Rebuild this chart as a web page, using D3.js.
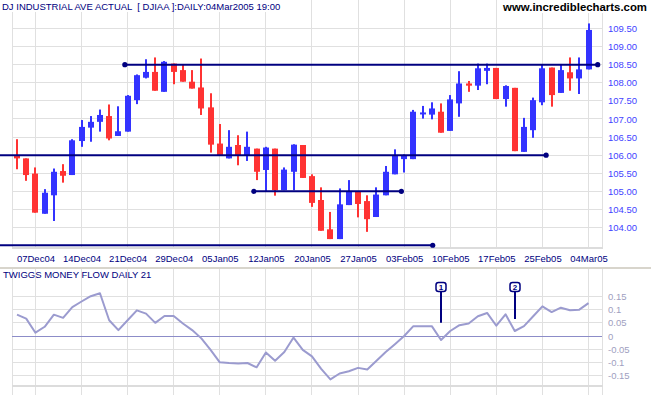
<!DOCTYPE html>
<html>
<head>
<meta charset="utf-8">
<script src="https://cdn.jsdelivr.net/npm/d3@7"></script>
<style>
  body { margin: 0; background: #fff; }
  svg { display: block; font-family: "Liberation Sans", Arial, sans-serif; }
</style>
</head>
<body>
<div id="chart"></div>
<script>
// trading days shown on the chart
const dates = [
  "03Dec04","06Dec04","07Dec04","08Dec04","09Dec04","10Dec04","13Dec04","14Dec04","15Dec04","16Dec04",
  "17Dec04","20Dec04","21Dec04","22Dec04","23Dec04","27Dec04","28Dec04","29Dec04","30Dec04","31Dec04",
  "03Jan05","04Jan05","05Jan05","06Jan05","07Jan05","10Jan05","11Jan05","12Jan05","13Jan05","14Jan05",
  "18Jan05","19Jan05","20Jan05","21Jan05","24Jan05","25Jan05","26Jan05","27Jan05","28Jan05","31Jan05",
  "01Feb05","02Feb05","03Feb05","04Feb05","07Feb05","08Feb05","09Feb05","10Feb05","11Feb05","14Feb05",
  "15Feb05","16Feb05","17Feb05","18Feb05","22Feb05","23Feb05","24Feb05","25Feb05","28Feb05","01Mar05",
  "02Mar05","03Mar05","04Mar05"
];

const open = [
  106.00,105.91,105.49,104.38,104.89,105.56,105.45,106.39,106.76,106.92,
  107.08,106.53,106.65,107.52,108.14,108.30,107.75,108.53,108.35,108.03,
  107.87,107.32,106.32,105.91,106.28,106.00,106.18,105.59,106.18,105.03,
  105.54,106.28,105.42,104.76,103.95,103.68,104.62,104.99,104.73,104.29,
  104.89,105.47,105.89,105.89,107.13,107.12,107.20,106.67,107.43,107.98,
  107.92,108.33,108.41,107.55,107.86,106.09,106.69,107.46,108.42,107.72,
  108.29,108.12,108.37
];
const high = [
  106.44,105.91,105.66,105.06,105.63,105.75,106.44,106.97,107.08,107.26,
  107.40,107.35,107.66,108.23,108.65,108.70,108.60,108.53,108.51,108.35,
  108.67,107.71,106.86,106.69,106.55,106.65,106.18,106.23,106.18,105.66,
  106.30,106.28,105.47,105.11,104.43,105.08,105.31,104.99,104.89,105.11,
  105.70,106.16,106.02,107.25,107.36,107.46,107.43,107.66,108.32,108.05,
  108.53,108.53,108.41,107.93,107.86,107.03,107.59,108.51,108.42,108.52,
  108.70,108.70,109.64
];
const low = [
  105.61,105.29,104.41,104.38,104.18,105.24,105.45,106.23,106.37,106.65,
  106.41,106.53,106.65,107.41,108.12,107.78,107.75,107.96,108.03,107.84,
  107.11,106.07,106.00,105.91,105.72,105.84,105.31,105.01,104.88,105.03,
  105.03,105.37,104.57,103.91,103.68,103.68,104.62,104.28,103.88,104.29,
  104.89,105.47,105.52,105.89,107.01,106.99,106.62,106.67,107.06,107.75,
  107.80,107.96,107.55,107.34,106.11,106.09,106.48,107.38,107.34,107.72,
  107.78,107.69,108.37
];
const close = [
  105.91,105.45,104.41,104.96,105.54,105.43,106.41,106.78,106.92,107.11,
  106.46,106.66,107.64,108.21,108.30,107.78,108.58,108.30,108.03,107.84,
  107.29,106.29,106.00,106.23,106.00,106.23,105.54,106.21,105.03,105.60,
  106.29,105.37,104.68,103.91,103.68,104.64,105.00,104.65,104.23,104.91,
  105.54,106.00,106.00,107.20,107.18,107.29,106.62,107.54,107.98,107.92,
  108.40,108.41,107.55,107.91,106.11,106.78,107.52,108.40,107.66,108.35,
  108.12,108.37,109.46
];

// Twiggs Money Flow (21)
const tmf = [
  0.081,0.066,0.0125,0.035,0.081,0.069,0.11,0.131,0.151,0.1625,
  0.06,0.0225,0.06,0.0975,0.085,0.05,0.076,0.076,0.0475,0.0225,
  -0.009,-0.0525,-0.1,-0.1025,-0.104,-0.1025,-0.119,-0.0625,-0.094,-0.061,
  -0.006,-0.0525,-0.0775,-0.125,-0.165,-0.1425,-0.134,-0.121,-0.1275,-0.094,
  -0.061,-0.031,0.0,0.0375,0.0375,0.0375,-0.015,0.019,0.041,0.0475,
  0.075,0.0875,0.039,0.0825,0.019,0.0375,0.075,0.1125,0.091,0.1075,
  0.0975,0.1,0.125
];

const priceTicks = d3.range(104, 109.51, 0.5);
const tmfTicks = [-0.15, -0.1, -0.05, 0, 0.05, 0.1, 0.15];
const dateTicks = dates.filter((d, i) => i % 5 === 2);

// trend lines: start / end as (fractional) bar index, price level
const trendLines = [
  { from: 11.7, to: 63.0, level: 108.5, startDot: true },
  { from: -1.9, to: 57.4, level: 106.0, startDot: false },
  { from: 25.7, to: 41.7, level: 105.0, startDot: true },
  { from: -1.9, to: 45.1, level: 103.51, startDot: false }
];

// TMF signal markers
const markers = [
  { label: "1", date: "09Feb05", tip: 0.05 },
  { label: "2", date: "22Feb05", tip: 0.065 }
];

const width = 651, height = 395;
const plotL = 12, plotR = 602;
const mainBot = 248, lowTop = 269, lowBot = 386;
const navy = "#000080", grid = "#e0e0e0";

const svg = d3.select("#chart").append("svg")
  .attr("width", width)
  .attr("height", height);

const x = d3.scalePoint().domain(dates).range([17, 588.5]);
const xi = d3.scaleLinear().domain([0, dates.length - 1]).range([17, 588.5]);
const y = d3.scaleLinear().domain([104, 109.5]).range([227.5, 28.5]);
const y2 = d3.scaleLinear().domain([-0.15, 0.15]).range([375.5, 296.5]);

const crisp = v => Math.round(v - 0.5) + 0.5;

// ---- grid, main panel
const gMain = svg.append("g");
gMain.selectAll("line.vg")
  .data(dateTicks)
  .join("line")
  .attr("x1", d => crisp(x(d))).attr("x2", d => crisp(x(d)))
  .attr("y1", 0).attr("y2", mainBot)
  .attr("stroke", grid);
gMain.selectAll("line.hg")
  .data(priceTicks)
  .join("line")
  .attr("x1", plotL).attr("x2", plotR)
  .attr("y1", d => crisp(y(d))).attr("y2", d => crisp(y(d)))
  .attr("stroke", grid);
[plotL, plotR].forEach(px => {
  gMain.append("line")
    .attr("x1", px + 0.5).attr("x2", px + 0.5)
    .attr("y1", 0).attr("y2", mainBot)
    .attr("stroke", grid);
});
gMain.append("line")
  .attr("x1", plotL).attr("x2", plotR + 1)
  .attr("y1", mainBot).attr("y2", mainBot)
  .attr("stroke", "#dcdcdc").attr("stroke-width", 2);

// ---- grid, lower panel
const gLow = svg.append("g");
gLow.selectAll("line")
  .data(dateTicks)
  .join("line")
  .attr("x1", d => crisp(x(d))).attr("x2", d => crisp(x(d)))
  .attr("y1", lowTop).attr("y2", height)
  .attr("stroke", grid);
[plotL, plotR].forEach(px => {
  gLow.append("line")
    .attr("x1", px + 0.5).attr("x2", px + 0.5)
    .attr("y1", lowTop).attr("y2", height)
    .attr("stroke", grid);
});
gLow.selectAll("line.h")
  .data(tmfTicks.filter(d => d !== 0))
  .join("line")
  .attr("x1", plotL).attr("x2", plotR)
  .attr("y1", d => crisp(y2(d))).attr("y2", d => crisp(y2(d)))
  .attr("stroke", grid);
gLow.append("line")
  .attr("x1", plotL).attr("x2", plotR + 1)
  .attr("y1", lowBot).attr("y2", lowBot)
  .attr("stroke", "#dcdcdc").attr("stroke-width", 2);
gLow.append("line")
  .attr("x1", plotL).attr("x2", plotR)
  .attr("y1", crisp(y2(0))).attr("y2", crisp(y2(0)))
  .attr("stroke", "#8c8cc8");

// separator between panels
svg.append("line")
  .attr("x1", 0).attr("x2", width)
  .attr("y1", lowTop - 1).attr("y2", lowTop - 1)
  .attr("stroke", "#d8d5cc").attr("stroke-width", 2);

// ---- candles
const candles = svg.append("g")
  .selectAll("g")
  .data(dates.map((d, i) => ({ d, o: open[i], h: high[i], l: low[i], c: close[i] })))
  .join("g")
  .attr("fill", d => d.c >= d.o ? "#3333ff" : "#ff3333");

candles.append("rect")
  .attr("x", d => Math.round(x(d.d)) - 1)
  .attr("width", 2)
  .attr("y", d => y(d.h))
  .attr("height", d => y(d.l) - y(d.h));

candles.append("rect")
  .attr("x", d => Math.round(x(d.d)) - 3)
  .attr("width", 6)
  .attr("y", d => y(Math.max(d.o, d.c)))
  .attr("height", d => Math.max(2, Math.abs(y(d.o) - y(d.c))));

// ---- trend lines
const tl = svg.append("g");
tl.selectAll("line")
  .data(trendLines)
  .join("line")
  .attr("x1", d => xi(d.from)).attr("x2", d => xi(d.to))
  .attr("y1", d => y(d.level)).attr("y2", d => y(d.level))
  .attr("stroke", navy).attr("stroke-width", 2);
tl.selectAll("circle.e")
  .data(trendLines)
  .join("circle")
  .attr("cx", d => xi(d.to)).attr("cy", d => y(d.level))
  .attr("r", 2.6).attr("fill", navy);
tl.selectAll("circle.s")
  .data(trendLines.filter(d => d.startDot))
  .join("circle")
  .attr("cx", d => xi(d.from)).attr("cy", d => y(d.level))
  .attr("r", 2.6).attr("fill", navy);

// ---- axes
const priceAxis = svg.append("g")
  .attr("transform", `translate(${plotR},0)`)
  .call(d3.axisRight(y).tickValues(priceTicks).tickSize(0).tickPadding(6).tickFormat(d3.format(".2f")));
priceAxis.select(".domain").remove();
priceAxis.selectAll("text")
  .attr("fill", "#4444ff").style("font-size", "9.5px");

const tmfAxis = svg.append("g")
  .attr("transform", `translate(${plotR},0)`)
  .call(d3.axisRight(y2).tickValues(tmfTicks).tickSize(0).tickPadding(6).tickFormat(d => String(+d.toFixed(2))));
tmfAxis.select(".domain").remove();
tmfAxis.selectAll("text")
  .attr("fill", "#a0a0c0").style("font-size", "9.5px");

const dateAxis = svg.append("g")
  .attr("transform", `translate(0,${mainBot})`)
  .call(d3.axisBottom(x).tickValues(dateTicks).tickSize(0).tickPadding(7));
dateAxis.select(".domain").remove();
dateAxis.selectAll("text")
  .attr("fill", navy).style("font-size", "9.5px");

// ---- TMF line
svg.append("path")
  .datum(tmf)
  .attr("fill", "none")
  .attr("stroke", "#9b9bcf")
  .attr("stroke-width", 2)
  .attr("stroke-linejoin", "round")
  .attr("d", d3.line().x((d, i) => x(dates[i])).y(d => y2(d)));

// ---- markers
const mk = svg.append("g").selectAll("g")
  .data(markers)
  .join("g")
  .attr("transform", d => `translate(${Math.round(x(d.date))},0)`);
mk.append("line")
  .attr("x1", 0).attr("x2", 0)
  .attr("y1", 288).attr("y2", d => y2(d.tip))
  .attr("stroke", navy).attr("stroke-width", 2);
mk.append("rect")
  .attr("x", -5).attr("y", 282.5)
  .attr("width", 10).attr("height", 9)
  .attr("rx", 2.5)
  .attr("fill", "#fff").attr("stroke", navy).attr("stroke-width", 1.5);
mk.append("text")
  .attr("x", 0).attr("y", 290)
  .attr("text-anchor", "middle")
  .attr("fill", navy)
  .style("font-size", "8px").style("font-weight", "bold")
  .text(d => d.label);

// ---- titles (white backing so the grid doesn't run through them)
const title = svg.append("text")
  .attr("x", 2).attr("y", 9.5)
  .attr("fill", navy)
  .style("font-size", "9.5px")
  .style("white-space", "pre")
  .text("DJ INDUSTRIAL AVE ACTUAL  [ DJIAA ]:DAILY:04Mar2005 19:00");
const tb = title.node().getBBox();
svg.insert("rect", () => title.node())
  .attr("x", 0).attr("y", 0).attr("width", tb.x + tb.width + 2).attr("height", 12)
  .attr("fill", "#fff");

const url = svg.append("text")
  .attr("x", 647).attr("y", 11)
  .attr("text-anchor", "end")
  .attr("fill", "#000")
  .style("font-size", "11.4px").style("font-weight", "bold")
  .text("www.incrediblecharts.com");
const ub = url.node().getBBox();
svg.insert("rect", () => url.node())
  .attr("x", ub.x - 2).attr("y", 0).attr("width", ub.width + 4).attr("height", 13)
  .attr("fill", "#fff");

svg.append("text")
  .attr("x", 3).attr("y", 278)
  .attr("fill", navy)
  .style("font-size", "9.5px")
  .text("TWIGGS MONEY FLOW DAILY 21");
</script>
</body>
</html>
